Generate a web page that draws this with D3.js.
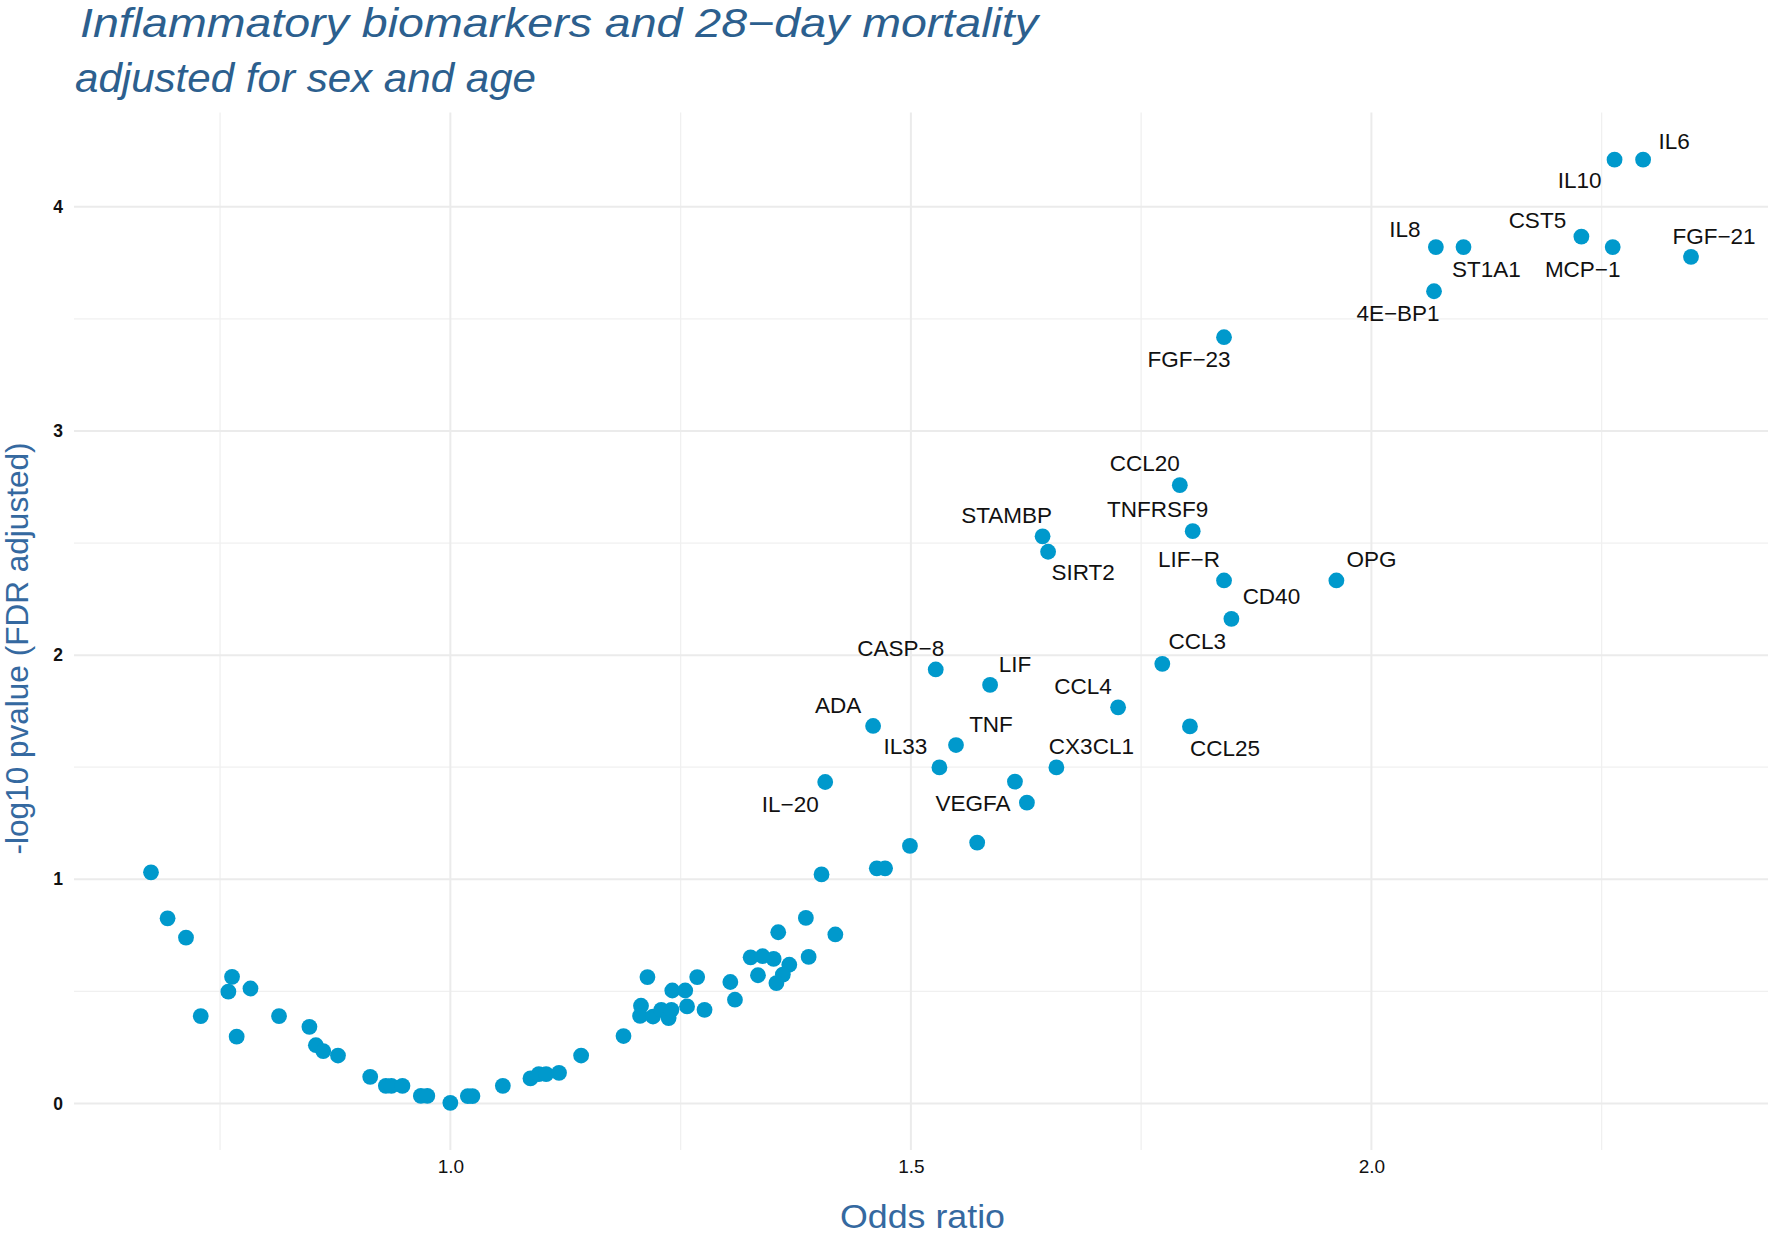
<!DOCTYPE html>
<html>
<head>
<meta charset="utf-8">
<script src="https://cdn.jsdelivr.net/npm/d3@7"></script>
<style>
  html, body { margin: 0; padding: 0; background: #ffffff; }
  svg { display: block; }
</style>
</head>
<body>
<div id="chart"></div>
<script>
// ---------------- DATA ----------------
const labeledNames = ["IL6","IL10","CST5","MCP\u22121","FGF\u221221","IL8","ST1A1","4E\u2212BP1","FGF\u221223",
  "CCL20","TNFRSF9","STAMBP","SIRT2","LIF\u2212R","OPG","CD40","CCL3","CASP\u22128","LIF","CCL4","CCL25",
  "ADA","TNF","IL33","CX3CL1","VEGFA","IL\u221220"];
const labeledOR = [2.295,2.264,2.228,2.262,2.347,2.070,2.100,2.068,1.840,
  1.792,1.806,1.643,1.649,1.840,1.962,1.848,1.773,1.527,1.586,1.725,1.803,
  1.459,1.549,1.531,1.658,1.626,1.407];
const labeledNegLogP = [4.210,4.210,3.867,3.820,3.776,3.820,3.820,3.623,3.418,
  2.758,2.553,2.530,2.461,2.333,2.333,2.162,1.961,1.936,1.867,1.767,1.682,
  1.684,1.599,1.499,1.499,1.342,1.434];

const otherOR = [0.675,0.693,0.713,0.729,0.763,0.759,0.768,0.783,0.814,0.847,0.854,0.862,0.878,
  0.913,0.930,0.936,0.948,0.968,0.975,1.000,1.019,1.024,1.057,1.087,1.096,1.104,1.118,1.142,1.188,
  1.214,1.207,1.206,1.220,1.229,1.237,1.240,1.241,1.255,1.257,1.268,1.276,
  1.304,1.309,1.326,1.339,1.351,1.334,1.356,1.368,1.361,1.354,1.386,1.389,1.418,1.403,
  1.463,1.472,1.499,1.572,1.613];
const otherNegLogP = [1.031,0.826,0.740,0.390,0.565,0.499,0.298,0.513,0.390,0.342,0.260,0.234,0.214,
  0.119,0.079,0.079,0.079,0.034,0.034,0.003,0.033,0.033,0.079,0.112,0.131,0.131,0.137,0.214,0.301,
  0.564,0.436,0.391,0.388,0.418,0.381,0.418,0.504,0.504,0.433,0.564,0.418,
  0.542,0.463,0.652,0.657,0.645,0.572,0.764,0.619,0.575,0.537,0.828,0.654,0.754,1.022,
  1.049,1.049,1.149,1.164,1.436];

const xMajorTicks = [1.0, 1.5, 2.0];
const xMinorTicks = [0.75, 1.25, 1.75, 2.25];
const yMajorTicks = [0, 1, 2, 3, 4];
const yMinorTicks = [0.5, 1.5, 2.5, 3.5];

const titleText = "Inflammatory biomarkers and 28\u2212day mortality";
const subtitleText = "adjusted for sex and age";
const xTitle = "Odds ratio";
const yTitle = "-log10 pvalue (FDR adjusted)";

// ---------------- LAYOUT (label placement, px) ----------------
const labelDx = [31,-35,-44,-30,23,-31,23,-36,-35, -35,-35,-36,35,-35,35,40,35,-35,25,-35,35, -35,35,-34,35,-54,-35];
const labelDy = [-18,21,-16,22,-20,-18,22,22,22, -22,-22,-21,21,-21,-21,-22,-22,-21,-20,-21,22, -20,-21,-21,-21,1,22];

const W = 1770, H = 1233;
const plot = { left: 74, right: 1768, top: 112.5, bottom: 1150 };
const dotColor = "#0099CC";
const titleColor = "#2C5F8E";
const axisTitleColor = "#3569A0";

const svg = d3.select("#chart").append("svg")
  .attr("width", W).attr("height", H)
  .style("font-family", "'Liberation Sans', Arial, Helvetica, sans-serif");

const allOR = labeledOR.concat(otherOR);
const allP = labeledNegLogP.concat(otherNegLogP);
const xExt = d3.extent(allOR), yExt = d3.extent(allP);
const xPad = (xExt[1] - xExt[0]) * 0.05, yPad = (yExt[1] - yExt[0]) * 0.05;

const x = d3.scaleLinear().domain([xExt[0] - xPad, xExt[1] + xPad]).range([plot.left, plot.right]);
const y = d3.scaleLinear().domain([yExt[0] - yPad, yExt[1] + yPad]).range([plot.bottom, plot.top]);

// grid
const grid = svg.append("g");
grid.selectAll("line.xminor").data(xMinorTicks).join("line")
  .attr("x1", d => x(d)).attr("x2", d => x(d)).attr("y1", plot.top).attr("y2", plot.bottom)
  .attr("stroke", "#f0f0f0").attr("stroke-width", 1.3);
grid.selectAll("line.yminor").data(yMinorTicks).join("line")
  .attr("y1", d => y(d)).attr("y2", d => y(d)).attr("x1", plot.left).attr("x2", plot.right)
  .attr("stroke", "#f0f0f0").attr("stroke-width", 1.3);
grid.selectAll("line.xmajor").data(xMajorTicks).join("line")
  .attr("x1", d => x(d)).attr("x2", d => x(d)).attr("y1", plot.top).attr("y2", plot.bottom)
  .attr("stroke", "#ebebeb").attr("stroke-width", 2);
grid.selectAll("line.ymajor").data(yMajorTicks).join("line")
  .attr("y1", d => y(d)).attr("y2", d => y(d)).attr("x1", plot.left).attr("x2", plot.right)
  .attr("stroke", "#ebebeb").attr("stroke-width", 2);

// axes (tick labels only)
const xAxis = svg.append("g").attr("transform", `translate(0,${plot.bottom})`)
  .call(d3.axisBottom(x).tickValues(xMajorTicks).tickFormat(d3.format(".1f")).tickSize(0).tickPadding(10));
xAxis.select(".domain").remove();
xAxis.selectAll("text").attr("font-size", 19).attr("fill", "#111").attr("font-family", "'Liberation Sans', Arial, sans-serif");

const yAxis = svg.append("g").attr("transform", `translate(${plot.left},0)`)
  .call(d3.axisLeft(y).tickValues(yMajorTicks).tickFormat(d3.format("d")).tickSize(0).tickPadding(11));
yAxis.select(".domain").remove();
yAxis.selectAll("text").attr("font-size", 17.5).attr("font-weight", "bold").attr("fill", "#111").attr("font-family", "'Liberation Sans', Arial, sans-serif");

// points
const others = otherOR.map((d, i) => ({ or: d, p: otherNegLogP[i] }));
const labeled = labeledNames.map((n, i) => ({ name: n, or: labeledOR[i], p: labeledNegLogP[i], dx: labelDx[i], dy: labelDy[i] }));

svg.append("g").selectAll("circle").data(others.concat(labeled)).join("circle")
  .attr("cx", d => x(d.or)).attr("cy", d => y(d.p)).attr("r", 7.9).attr("fill", dotColor);

svg.append("g").selectAll("text").data(labeled).join("text")
  .attr("x", d => x(d.or) + d.dx).attr("y", d => y(d.p) + d.dy)
  .attr("text-anchor", "middle").attr("dominant-baseline", "central")
  .attr("font-size", 22.5).attr("fill", "#111")
  .text(d => d.name);

// titles
svg.append("text").attr("x", 80).attr("y", 36.5)
  .attr("font-size", 40).attr("font-style", "italic").attr("fill", titleColor)
  .attr("textLength", 958).attr("lengthAdjust", "spacingAndGlyphs")
  .text(titleText);
svg.append("text").attr("x", 75).attr("y", 92)
  .attr("font-size", 40).attr("font-style", "italic").attr("fill", titleColor)
  .attr("textLength", 461).attr("lengthAdjust", "spacingAndGlyphs")
  .text(subtitleText);

svg.append("text").attr("x", 922.5).attr("y", 1227.5)
  .attr("text-anchor", "middle").attr("font-size", 34).attr("fill", axisTitleColor)
  .attr("textLength", 165).attr("lengthAdjust", "spacingAndGlyphs")
  .text(xTitle);

svg.append("text").attr("transform", `translate(28,648.5) rotate(-90)`)
  .attr("text-anchor", "middle").attr("font-size", 32).attr("fill", axisTitleColor)
  .attr("textLength", 412).attr("lengthAdjust", "spacingAndGlyphs")
  .text(yTitle);
</script>
</body>
</html>
